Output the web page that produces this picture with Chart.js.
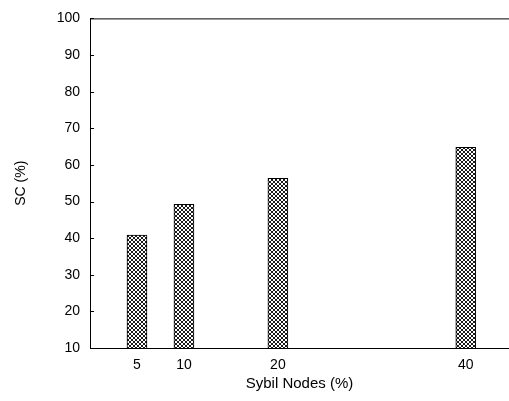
<!DOCTYPE html>
<html>
<head>
<meta charset="utf-8">
<script src="https://cdn.jsdelivr.net/npm/chart.js@4.4.1/dist/chart.umd.min.js"></script>
<style>
  html, body { margin: 0; padding: 0; background: #fff; }
  #wrap { width: 509px; height: 401px; }
</style>
</head>
<body>
<div id="wrap"><canvas id="myChart" width="509" height="401"></canvas></div>
<script>
// valores
const sybilNodes = [5, 10, 20, 40];
const scValues = [40.8, 49.2, 56.3, 64.8];
const xTicks = [5, 10, 20, 40];
const yTicks = [10, 20, 30, 40, 50, 60, 70, 80, 90, 100];

// trama cruzada para las barras
function makeHatch() {
    const c = document.createElement('canvas');
    c.width = 4;
    c.height = 4;
    const g = c.getContext('2d');
    g.fillStyle = '#fff';
    g.fillRect(0, 0, 4, 4);
    g.strokeStyle = '#000';
    g.lineWidth = 0.9;
    g.beginPath();
    g.moveTo(-1, -1); g.lineTo(5, 5);
    g.moveTo(5, -1); g.lineTo(-1, 5);
    g.moveTo(-1, 3); g.lineTo(1, 5);
    g.moveTo(3, -1); g.lineTo(5, 1);
    g.moveTo(1, -1); g.lineTo(-1, 1);
    g.moveTo(5, 3); g.lineTo(3, 5);
    g.stroke();
    return g.createPattern(c, 'repeat');
}

// marco superior y marcas hacia dentro en el eje y
const framePlugin = {
    id: 'frame',
    afterDraw(chart) {
        const ctx = chart.ctx;
        const area = chart.chartArea;
        const yScale = chart.scales.y;
        ctx.save();
        ctx.strokeStyle = '#000';
        ctx.lineWidth = 1;
        ctx.beginPath();
        ctx.moveTo(area.left, area.top + 0.5);
        ctx.lineTo(area.right, area.top + 0.5);
        yScale.ticks.forEach((t, i) => {
            const py = Math.round(yScale.getPixelForTick(i)) + 0.5;
            ctx.moveTo(area.left, py);
            ctx.lineTo(area.left + 4, py);
        });
        ctx.stroke();
        ctx.restore();
    }
};

const ctx = document.getElementById('myChart').getContext('2d');
const tickFont = { family: 'Liberation Sans', size: 14 };
const titleFont = { family: 'Liberation Sans', size: 15 };

new Chart(ctx, {
    type: 'bar',
    data: {
        datasets: [{
            data: sybilNodes.map((x, i) => ({ x: x, y: scValues[i] })),
            backgroundColor: makeHatch(),
            borderColor: '#000',
            borderWidth: 1,
            borderSkipped: 'bottom',
            barThickness: 20
        }]
    },
    options: {
        responsive: false,
        animation: false,
        layout: { padding: { top: 16, right: 0, left: 0, bottom: 0 } },
        plugins: { legend: { display: false }, tooltip: { enabled: false } },
        scales: {
            x: {
                type: 'linear',
                min: 0,
                max: 44.6,
                offset: false,
                afterBuildTicks: scale => { scale.ticks = xTicks.map(v => ({ value: v })); },
                afterFit: scale => { scale.height = 53; },
                grid: { display: false, drawTicks: false },
                border: { display: true, color: '#000', width: 1 },
                ticks: { color: '#000', font: tickFont, padding: 9, maxRotation: 0, autoSkip: false },
                title: { display: true, text: 'Sybil Nodes (%)', color: '#000', font: titleFont, padding: { top: 0, bottom: 8 } }
            },
            y: {
                min: 10,
                max: 100,
                afterBuildTicks: scale => { scale.ticks = yTicks.map(v => ({ value: v })); },
                afterFit: scale => { scale.width = 90; },
                grid: { display: false, drawTicks: false },
                border: { display: true, color: '#000', width: 1 },
                ticks: { color: '#000', font: tickFont, padding: 10 },
                title: { display: true, text: 'SC (%)', color: '#000', font: tickFont, padding: { top: 13, bottom: 0 } }
            }
        }
    },
    plugins: [framePlugin]
});
</script>
</body>
</html>
